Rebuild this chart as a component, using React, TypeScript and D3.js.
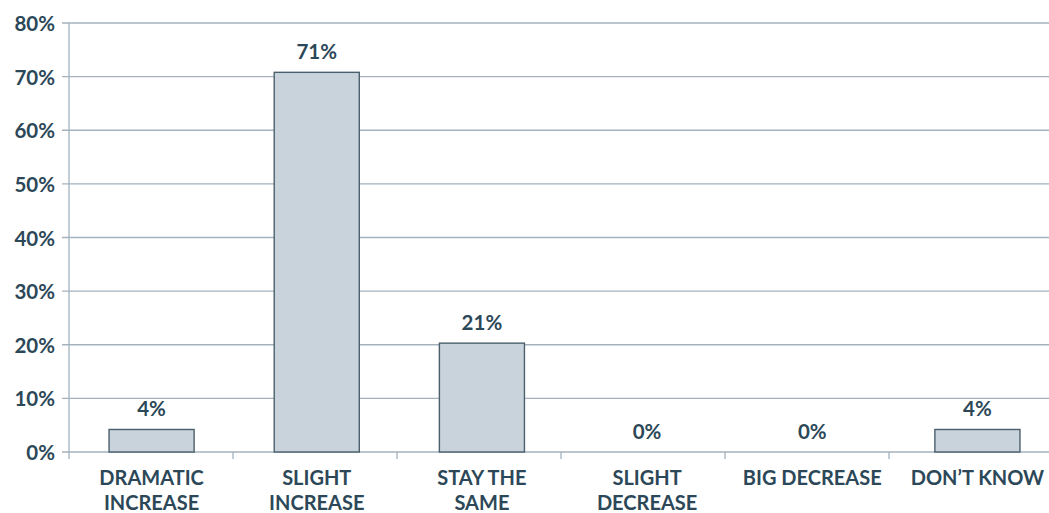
import React from "react";
import * as d3 from "d3";

const categories: string[][] = [
  ["DRAMATIC", "INCREASE"],
  ["SLIGHT", "INCREASE"],
  ["STAY THE", "SAME"],
  ["SLIGHT", "DECREASE"],
  ["BIG DECREASE"],
  ["DON\u2019T KNOW"],
];
const values: number[] = [4.2, 70.8, 20.3, 0, 0, 4.2];
const valueLabels: string[] = ["4%", "71%", "21%", "0%", "0%", "4%"];
const yTicks: number[] = [0, 10, 20, 30, 40, 50, 60, 70, 80];

const W = 1049;
const H = 513;
const m = { left: 69, top: 23, bottom: 61 };
const TEXT = "#2c4858";
const GRID = "#a3b2be";
const FONT = "Lato, 'Open Sans', sans-serif";

export default function App() {
  const keys = categories.map((_, i) => String(i));
  // axis bands (tick marks)
  const xAxis = d3.scaleBand<string>().domain(keys).range([m.left, 1053]);
  // bar positions
  const xBar = d3.scaleBand<string>().domain(keys).range([m.left, 1060]).paddingInner(0.485).paddingOuter(0.2425);
  const y = d3.scaleLinear().domain([0, 80]).range([H - m.bottom, m.top]);
  const y0 = y(0);
  return (
    <svg width={W} height={H} style={{ position: "absolute", left: 0, top: 0, fontFamily: FONT }}>
      <rect width={W} height={H} fill="#fff" />
      {yTicks.map((t) => (
        <g key={t}>
          <line x1={m.left - 7} x2={W} y1={y(t)} y2={y(t)} stroke={GRID} strokeWidth={1.3} />
          <text x={55} y={y(t) + 8} textAnchor="end" fontSize={20.5} fontWeight={700} fill={TEXT}>
            {t}%
          </text>
        </g>
      ))}
      <line x1={m.left} x2={m.left} y1={y(80)} y2={y0 + 7} stroke={GRID} strokeWidth={1.3} />
      {keys.map((k) => (
        <line
          key={"t" + k}
          x1={(xAxis(k) as number) + xAxis.bandwidth()}
          x2={(xAxis(k) as number) + xAxis.bandwidth()}
          y1={y0}
          y2={y0 + 7}
          stroke={GRID}
          strokeWidth={1.3}
        />
      ))}
      {values.map((v, i) => {
        const k = keys[i];
        const bx = xBar(k) as number;
        const bw = xBar.bandwidth();
        const cx = bx + bw / 2;
        return (
          <g key={"b" + i}>
            {v > 0 && (
              <rect x={bx} y={y(v)} width={bw} height={y0 - y(v)} fill="#c8d3dc" stroke="#4b5f6c" strokeWidth={1.4} />
            )}
            <text x={cx} y={y(v) - 13} textAnchor="middle" fontSize={20.5} fontWeight={700} fill={TEXT}>
              {valueLabels[i]}
            </text>
          </g>
        );
      })}
      {categories.map((lines, i) => {
        const k = keys[i];
        const cx = (xBar(k) as number) + xBar.bandwidth() / 2;
        return (
          <text key={"c" + i} x={cx} textAnchor="middle" fontSize={20} fontWeight={700} fill={TEXT}>
            {lines.map((l, j) => (
              <tspan key={j} x={cx} y={485 + j * 25}>
                {l}
              </tspan>
            ))}
          </text>
        );
      })}
    </svg>
  );
}
